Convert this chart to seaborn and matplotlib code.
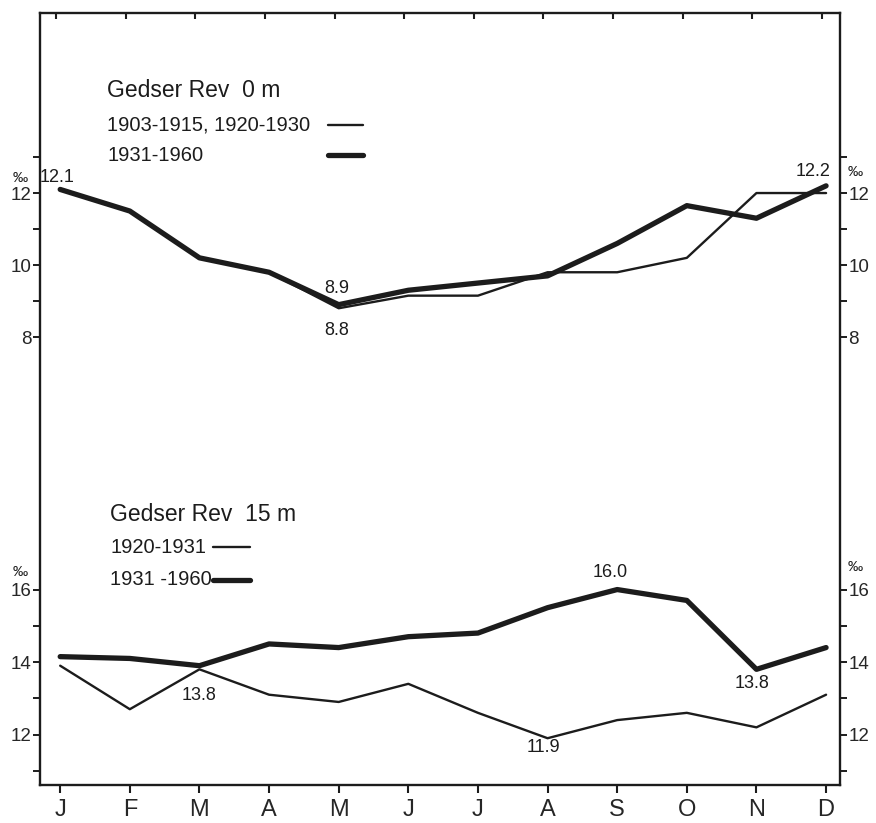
import matplotlib
matplotlib.use('Agg')
import matplotlib.pyplot as plt
from matplotlib.lines import Line2D
import seaborn as sns

# months along the x axis
months = ['J', 'F', 'M', 'A', 'M', 'J', 'J', 'A', 'S', 'O', 'N', 'D']
x_idx = list(range(len(months)))

# Gedser Rev 0 m (salinity, per mille)
surf_old = [12.1, 11.5, 10.2, 9.8, 8.8, 9.15, 9.15, 9.8, 9.8, 10.2, 12.0, 12.0]   # 1903-1915, 1920-1930
surf_new = [12.1, 11.5, 10.2, 9.8, 8.9, 9.3, 9.5, 9.7, 10.6, 11.65, 11.3, 12.2]   # 1931-1960

# Gedser Rev 15 m
deep_old = [13.9, 12.7, 13.8, 13.1, 12.9, 13.4, 12.6, 11.9, 12.4, 12.6, 12.2, 13.1]   # 1920-1931
deep_new = [14.15, 14.1, 13.9, 14.5, 14.4, 14.7, 14.8, 15.5, 16.0, 15.7, 13.8, 14.4]  # 1931-1960

sns.set_style('ticks')
plt.rcParams['font.family'] = ['Liberation Sans', 'DejaVu Sans']

ink = '#1c1c1c'
thin_lw = 1.7
thick_lw = 3.8

fig = plt.figure(figsize=(8.76, 8.23), dpi=100)
fig.patch.set_facecolor('white')
pos = [40 / 876, 1 - 785 / 823, 800 / 876, 772 / 823]

# upper panel axes holds the frame and the months
ax = fig.add_axes(pos)
# lower panel shares the same box, own y scale
ax2 = fig.add_axes(pos, sharex=ax)
ax2.patch.set_alpha(0)

sns.lineplot(x=x_idx, y=surf_old, ax=ax, color=ink, lw=thin_lw)
sns.lineplot(x=x_idx, y=surf_new, ax=ax, color=ink, lw=thick_lw)
sns.lineplot(x=x_idx, y=deep_old, ax=ax2, color=ink, lw=thin_lw)
sns.lineplot(x=x_idx, y=deep_new, ax=ax2, color=ink, lw=thick_lw)

ax.set_xlim(-0.29, 11.2)
ax.set_ylim(-4.44, 17.0)
ax2.set_ylim(10.61, 31.9)

for s in ax.spines.values():
    s.set_visible(True)
    s.set_linewidth(1.7)
    s.set_color(ink)
for s in ax2.spines.values():
    s.set_visible(False)

ax.set_xticks(x_idx)
ax.set_xticklabels(months, fontsize=17)
ax.tick_params(axis='x', direction='out', length=6, width=1.5, color=ink, pad=4)
top = ax.secondary_xaxis('top')
top.set_xticks([i - 0.06 for i in x_idx])
top.tick_params(direction='in', length=4, width=1.5, color=ink, labeltop=False)
top.spines['top'].set_visible(False)

ax.set_yticks([8, 10, 12])
ax.set_yticks([9, 11, 13], minor=True)
ax2.set_yticks([12, 14, 16])
ax2.set_yticks([11, 13, 15], minor=True)
for a in (ax, ax2):
    a.tick_params(axis='y', which='both', left=True, right=True,
                  labelleft=True, labelright=True, direction='out',
                  length=5, width=1.4, color=ink, labelsize=13.5, pad=1)
    a.set_xlabel('')
    a.set_ylabel('')
ax2.tick_params(axis='x', bottom=False, labelbottom=False)

# per-mille unit marks
for a, yl, yr in ((ax, 12.42, 12.58), (ax2, 16.48, 16.62)):
    tr = a.get_yaxis_transform()
    a.text(-0.025, yl, '‰', transform=tr, fontsize=11, ha='center', va='center', color=ink)
    a.text(1.019, yr, '‰', transform=tr, fontsize=11, ha='center', va='center', color=ink)

# value labels
def lab(a, i, v, dx, dy):
    a.annotate(f'{v:.1f}', xy=(i, v), xytext=(dx, dy), textcoords='offset pixels',
               ha='center', va='center', fontsize=13, color=ink)

lab(ax, 0, surf_new[0], -3, 12)
lab(ax, 4, surf_new[4], -2, 16)
lab(ax, 4, surf_old[4], -2, -22)
lab(ax, 11, surf_new[11], -13, 14)
lab(ax2, 2, deep_old[2], 0, -26)
lab(ax2, 7, deep_old[7], -4, -9)
lab(ax2, 8, deep_new[8], -7, 17)
lab(ax2, 10, deep_new[10], -4, -14)

# legend blocks (text with line keys)
def key(a, label_list, title, tx, ty, hx0, hx1, dy=(0.045, 0.039)):
    a.text(tx, ty, title, transform=a.transAxes, fontsize=16.5, va='center', ha='left', color=ink)
    y1 = ty - dy[0]
    y2 = y1 - dy[1]
    a.text(tx, y1, label_list[0], transform=a.transAxes, fontsize=14.5, va='center', ha='left', color=ink)
    a.text(tx, y2, label_list[1], transform=a.transAxes, fontsize=14.5, va='center', ha='left', color=ink)
    a.add_line(Line2D([hx0, hx1], [y1, y1], transform=a.transAxes, color=ink, lw=thin_lw))
    a.add_line(Line2D([hx0, hx1], [y2, y2], transform=a.transAxes, color=ink, lw=thick_lw))

key(ax, ['1903-1915, 1920-1930', '1931-1960'], 'Gedser Rev  0 m', 0.084, 0.900, 0.36, 0.404)
key(ax2, ['1920-1931', '1931 -1960'], 'Gedser Rev  15 m', 0.0875, 0.350, 0.216, 0.2625, dy=(0.042, 0.042))

fig.savefig('out.png', dpi=100)
